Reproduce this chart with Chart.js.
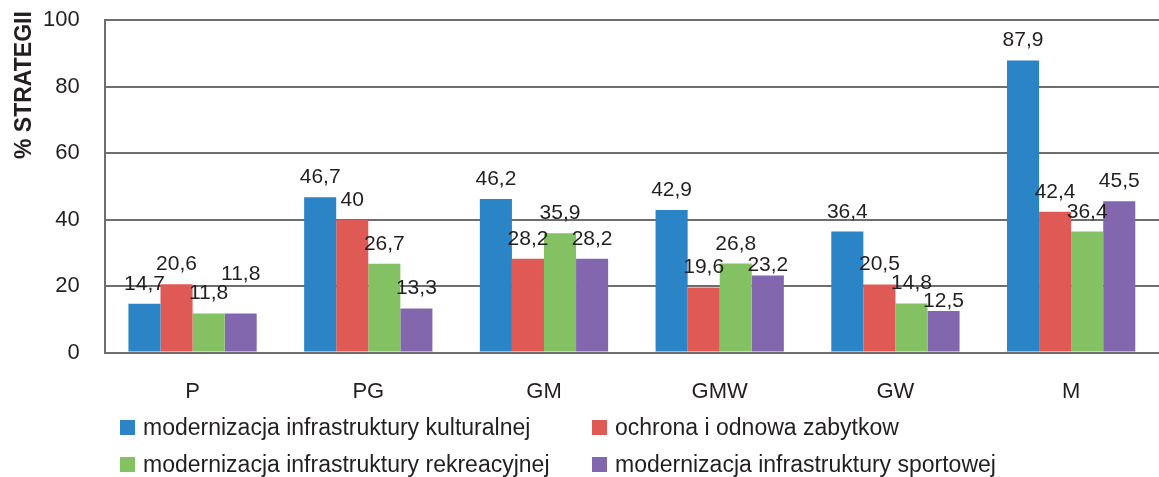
<!DOCTYPE html>
<html>
<head>
<meta charset="utf-8">
<script src="https://cdn.jsdelivr.net/npm/chart.js@4/dist/chart.umd.min.js"></script>
<style>
  body { margin: 0; background: #fff; font-family: "Liberation Sans", Arial, sans-serif; }
  #wrap { position: absolute; left: 0; top: -18px; width: 1159px; height: 441px; }
  #legend { position: absolute; left: 120px; top: 416px; display: grid; grid-template-columns: 472px 460px; row-gap: 15px; font-size: 23px; color: #231f20; }
  #legend div { display: flex; align-items: center; height: 22px; }
  #legend span { display: inline-block; width: 15px; height: 15px; margin-right: 8px; }
</style>
</head>
<body>
<div id="wrap"><canvas id="chart"></canvas></div>
<div id="legend"></div>
<script>
const categories = ['P', 'PG', 'GM', 'GMW', 'GW', 'M'];
const seriesNames = [
  'modernizacja infrastruktury kulturalnej',
  'ochrona i odnowa zabytkow',
  'modernizacja infrastruktury rekreacyjnej',
  'modernizacja infrastruktury sportowej'
];
const kulturalnej = [14.7, 46.7, 46.2, 42.9, 36.4, 87.9];
const zabytkow = [20.6, 40, 28.2, 19.6, 20.5, 42.4];
const rekreacyjnej = [11.8, 26.7, 35.9, 26.8, 14.8, 36.4];
const sportowej = [11.8, 13.3, 28.2, 23.2, 12.5, 45.5];
const yTicks = [0, 20, 40, 60, 80, 100];
const colors = ['#2a84c6', '#e05a55', '#84c162', '#8267ae'];

const legendEl = document.getElementById('legend');
seriesNames.forEach((name, i) => {
  const d = document.createElement('div');
  d.innerHTML = '<span style="background:' + colors[i] + '"></span>' + name;
  legendEl.appendChild(d);
});

// value labels above bars, nudged when two neighbours collide
const valueLabels = {
  id: 'valueLabels',
  afterDatasetsDraw(chart) {
    const ctx = chart.ctx;
    const cap = 15;
    ctx.save();
    ctx.font = '21px "Liberation Sans", Arial, sans-serif';
    ctx.fillStyle = '#231f20';
    ctx.textAlign = 'center';
    ctx.textBaseline = 'alphabetic';
    categories.forEach((c, i) => {
      let prev = null;
      chart.data.datasets.forEach((ds, di) => {
        const bar = chart.getDatasetMeta(di).data[i];
        const txt = String(ds.data[i]).replace('.', ',');
        const w = ctx.measureText(txt).width;
        let base = bar.y - 14;
        const box = () => ({ l: bar.x - w / 2, r: bar.x + w / 2, t: base - cap, b: base });
        const hit = (a, b) => a.l < b.r && b.l < a.r && a.t < b.b && b.t < a.b;
        if (prev && hit(box(), prev)) {
          base = bar.y - 4;
          if (hit(box(), prev)) base = prev.t - 4;
        }
        ctx.fillText(txt, bar.x, base);
        prev = box();
      });
    });
    // y axis title (canvas sits 18px above the page top)
    ctx.font = 'bold 23px "Liberation Sans", Arial, sans-serif';
    ctx.textAlign = 'left';
    ctx.translate(31, 177);
    ctx.rotate(-Math.PI / 2);
    ctx.fillText('% STRATEGII', 0, 0);
    ctx.restore();
  }
};

const values = [kulturalnej, zabytkow, rekreacyjnej, sportowej];
new Chart(document.getElementById('chart'), {
  type: 'bar',
  data: {
    labels: categories,
    datasets: values.map((v, i) => ({
      label: seriesNames[i],
      data: v,
      backgroundColor: colors[i],
      barPercentage: 1,
      categoryPercentage: 0.73
    }))
  },
  options: {
    responsive: true,
    maintainAspectRatio: false,
    animation: false,
    layout: { padding: { top: 0, right: 0, left: 18, bottom: 0 } },
    plugins: { legend: { display: false }, tooltip: { enabled: false } },
    scales: {
      x: {
        grid: { display: false },
        border: { color: '#6d6e71', width: 2 },
        ticks: { color: '#231f20', font: { size: 22, family: 'Liberation Sans' }, padding: 18 }
      },
      y: {
        min: 0,
        max: 100,
        afterBuildTicks(axis) { axis.ticks = yTicks.map(v => ({ value: v })); },
        grid: { color: '#6d6e71', lineWidth: 2, drawTicks: false },
        border: { color: '#6d6e71', width: 2 },
        ticks: { color: '#231f20', font: { size: 22, family: 'Liberation Sans' }, padding: 25 }
      }
    }
  },
  plugins: [valueLabels]
});
</script>
</body>
</html>
